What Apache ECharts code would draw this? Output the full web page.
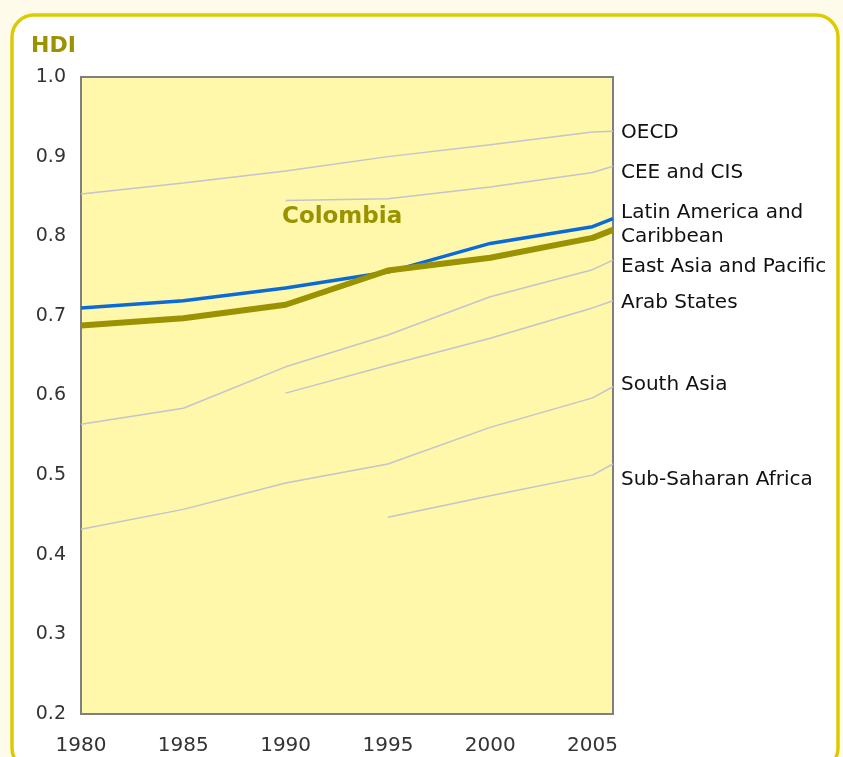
<!DOCTYPE html>
<html>
<head>
<meta charset="utf-8">
<script src="https://cdn.jsdelivr.net/npm/echarts@6/dist/echarts.min.js"></script>
<style>
html,body{margin:0;padding:0;background:#fffbea;}
#chart{width:843px;height:757px;}
</style>
</head>
<body>
<div id="chart"></div>
<script>
var years = [1980, 1985, 1990, 1995, 2000, 2005, 2006];
var xTicks = [1980, 1985, 1990, 1995, 2000, 2005];
var yTicks = [0.2, 0.3, 0.4, 0.5, 0.6, 0.7, 0.8, 0.9, 1.0];

var oecd      = [0.853, 0.867, 0.882, 0.900, 0.915, 0.931, 0.932];
var ceeCis    = [null, null, 0.845, 0.847, 0.862, 0.880, 0.888];
var latinAm   = [0.710, 0.719, 0.735, 0.755, 0.791, 0.812, 0.822];
var colombia  = [0.688, 0.697, 0.714, 0.757, 0.773, 0.798, 0.808];
var eastAsia  = [0.564, 0.584, 0.636, 0.676, 0.724, 0.758, 0.770];
var arab      = [null, null, 0.603, 0.638, 0.672, 0.710, 0.719];
var southAsia = [0.432, 0.457, 0.490, 0.514, 0.560, 0.597, 0.611];
var ssAfrica  = [null, null, null, 0.447, 0.474, 0.500, 0.514];

var regionNames = ['OECD', 'CEE and CIS', 'Latin America and\nCaribbean', 'East Asia and Pacific', 'Arab States', 'South Asia', 'Sub-Saharan Africa'];
var titleText = 'HDI';
var countryName = 'Colombia';

function pairs(vals) {
  var out = [];
  for (var i = 0; i < years.length; i++) {
    if (vals[i] !== null) out.push([years[i], vals[i]]);
  }
  return out;
}

var FONT = 'DejaVu Sans';
var grayLine = { color: '#c4c4cc', width: 1.5 };

function graySeries(name, vals) {
  return {
    name: name, type: 'line', data: pairs(vals), symbol: 'none',
    lineStyle: grayLine, z: 2, silent: true, animation: false
  };
}

var chart = echarts.init(document.getElementById('chart'), null, { renderer: 'canvas' });

var labelY = [133, 173, 225, 267, 303, 385, 480];
var labelGraphics = regionNames.map(function (n, i) {
  return {
    type: 'text', x: 621, y: labelY[i], z: 10,
    style: { text: n, fill: '#111', font: '20px "' + FONT + '"', textVerticalAlign: 'middle', textAlign: 'left', lineHeight: 24 }
  };
});

chart.setOption({
  backgroundColor: '#fffbea',
  animation: false,
  grid: {
    left: 81, right: 230, top: 77, bottom: 43,
    show: true, backgroundColor: '#fff7aa', borderColor: '#7f7f7f', borderWidth: 2, z: 1
  },
  xAxis: {
    type: 'value', min: xTicks[0], max: years[years.length - 1], interval: 5,
    axisLine: { show: true, lineStyle: { color: '#6f6f6f', width: 2 } },
    axisTick: { show: false },
    splitLine: { show: true, lineStyle: { color: '#d6d6d6', width: 1.5 } },
    axisLabel: {
      margin: 22, color: '#333', fontFamily: FONT, fontSize: 20, showMaxLabel: false,
      formatter: function (v) { return xTicks.indexOf(v) >= 0 ? String(v) : ''; }
    }
  },
  yAxis: {
    type: 'value', min: yTicks[0], max: yTicks[yTicks.length - 1], interval: 0.1,
    axisLine: { show: true, lineStyle: { color: '#6f6f6f', width: 2 } },
    axisTick: { show: false },
    splitLine: { show: true, lineStyle: { color: '#d6d6d6', width: 1.5 } },
    axisLabel: {
      margin: 15, color: '#333', fontFamily: FONT, fontSize: 19,
      formatter: function (v) { return v.toFixed(1); }
    }
  },
  graphic: [
    {
      type: 'rect', x: 12, y: 15, z: -10,
      shape: { width: 826, height: 755, r: 22 },
      style: { fill: '#ffffff', stroke: '#dccb00', lineWidth: 3.5 }
    },
    {
      type: 'text', x: 31, y: 46, z: 10,
      style: { text: titleText, fill: '#9a9200', font: 'bold 22px "' + FONT + '"', textVerticalAlign: 'middle' }
    },
    {
      type: 'text', x: 282, y: 217, z: 10,
      style: { text: countryName, fill: '#9a9200', font: 'bold 23px "' + FONT + '"', textVerticalAlign: 'middle' }
    }
  ].concat(labelGraphics),
  series: [
    graySeries('OECD', oecd),
    graySeries('CEE and CIS', ceeCis),
    graySeries('East Asia and Pacific', eastAsia),
    graySeries('Arab States', arab),
    graySeries('South Asia', southAsia),
    graySeries('Sub-Saharan Africa', ssAfrica),
    {
      name: 'Latin America and Caribbean', type: 'line', data: pairs(latinAm), symbol: 'none',
      lineStyle: { color: '#0a6bd8', width: 3.5 }, z: 4
    },
    {
      name: 'Colombia', type: 'line', data: pairs(colombia), symbol: 'none',
      lineStyle: { color: '#9a9200', width: 6 }, z: 5
    }
  ]
});
</script>
</body>
</html>
